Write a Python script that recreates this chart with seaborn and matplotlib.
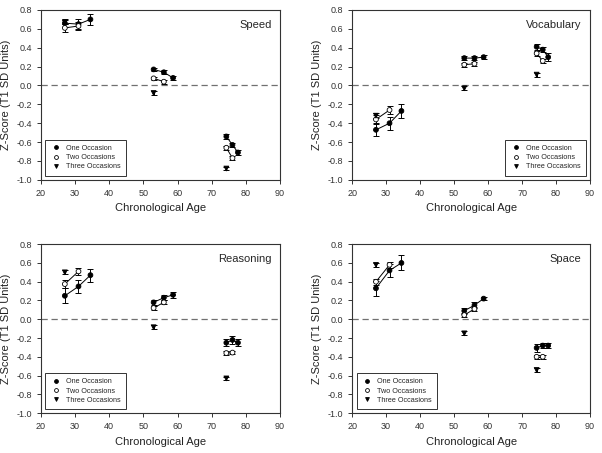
import numpy as np
import pandas as pd
import seaborn as sns
from matplotlib import pyplot as plt

# ages of the cohorts (young / middle / old) for each number of occasions
age_one = [27.0, 31.0, 34.5, 53.0, 56.0, 58.7, 74.3, 76.1, 77.7]
age_two = [27.0, 31.0, 53.0, 56.0, 74.3, 76.1]
age_three = [27.0, 53.0, 74.3]
cohort_one = ["y", "y", "y", "m", "m", "m", "o", "o", "o"]
cohort_two = ["y", "y", "m", "m", "o", "o"]
cohort_three = ["y", "m", "o"]

panels = ["Speed", "Vocabulary", "Reasoning", "Space"]

speed_one = [0.66, 0.65, 0.70, 0.17, 0.14, 0.08, -0.54, -0.63, -0.71]
speed_two = [0.61, 0.63, 0.075, 0.04, -0.66, -0.77]
speed_three = [0.67, -0.08, -0.88]
speed_se_one = [0.04, 0.05, 0.06, 0.02, 0.02, 0.02, 0.03, 0.02, 0.03]
speed_se_two = [0.04, 0.04, 0.02, 0.02, 0.02, 0.02]
speed_se_three = [0.02, 0.02, 0.02]

vocab_one = [-0.47, -0.40, -0.27, 0.29, 0.29, 0.30, 0.41, 0.38, 0.30]
vocab_two = [-0.36, -0.26, 0.22, 0.23, 0.34, 0.26]
vocab_three = [-0.32, -0.03, 0.115]
vocab_se_one = [0.07, 0.07, 0.07, 0.02, 0.02, 0.02, 0.03, 0.03, 0.04]
vocab_se_two = [0.05, 0.04, 0.02, 0.02, 0.03, 0.02]
vocab_se_three = [0.03, 0.02, 0.02]

reason_one = [0.25, 0.35, 0.47, 0.18, 0.23, 0.26, -0.25, -0.22, -0.25]
reason_two = [0.375, 0.51, 0.12, 0.18, -0.36, -0.355]
reason_three = [0.50, -0.085, -0.63]
reason_se_one = [0.08, 0.07, 0.07, 0.03, 0.03, 0.03, 0.04, 0.04, 0.04]
reason_se_two = [0.04, 0.04, 0.02, 0.02, 0.02, 0.02]
reason_se_three = [0.02, 0.02, 0.02]

space_one = [0.33, 0.52, 0.60, 0.09, 0.15, 0.22, -0.305, -0.28, -0.28]
space_two = [0.40, 0.58, 0.045, 0.11, -0.40, -0.40]
space_three = [0.58, -0.15, -0.54]
space_se_one = [0.08, 0.07, 0.08, 0.03, 0.03, 0.02, 0.04, 0.03, 0.03]
space_se_two = [0.03, 0.03, 0.02, 0.02, 0.02, 0.02]
space_se_three = [0.02, 0.02, 0.02]

values = {
    "Speed": (speed_one, speed_two, speed_three, speed_se_one, speed_se_two, speed_se_three),
    "Vocabulary": (vocab_one, vocab_two, vocab_three, vocab_se_one, vocab_se_two, vocab_se_three),
    "Reasoning": (reason_one, reason_two, reason_three, reason_se_one, reason_se_two, reason_se_three),
    "Space": (space_one, space_two, space_three, space_se_one, space_se_two, space_se_three),
}

occ_names = ["One Occasion", "Two Occasions", "Three Occasions"]

rows = []
for p in panels:
    z1, z2, z3, s1, s2, s3 = values[p]
    for occ, ages, coh, zs, ses in [(occ_names[0], age_one, cohort_one, z1, s1),
                                    (occ_names[1], age_two, cohort_two, z2, s2),
                                    (occ_names[2], age_three, cohort_three, z3, s3)]:
        for a, c, z, s in zip(ages, coh, zs, ses):
            rows.append({"panel": p, "occasion": occ, "grp": occ + c, "age": a, "z": z, "se": s})
df = pd.DataFrame(rows)

sns.set_style("ticks")
plt.rcParams["font.family"] = ["Liberation Sans", "DejaVu Sans"]

fig = plt.figure(figsize=(6.02, 4.53), dpi=100)
boxes = [
    [0.068, 0.603, 0.397, 0.375],
    [0.585, 0.603, 0.395, 0.375],
    [0.068, 0.088, 0.397, 0.373],
    [0.585, 0.088, 0.395, 0.373],
]
legend_loc = {"Speed": "lower left", "Vocabulary": "lower right",
              "Reasoning": "lower left", "Space": "lower left"}
yticks = np.round(np.arange(-1.0, 0.81, 0.2), 1)

for p, box in zip(panels, boxes):
    ax = fig.add_axes(box)
    d = df[df.panel == p]
    ax.axhline(0, color="#707070", ls=(0, (5, 3)), lw=0.9, zorder=1)
    lines = d[d.occasion != occ_names[2]]
    sns.lineplot(data=lines, x="age", y="z", units="grp", estimator=None,
                 color="black", lw=0.7, ax=ax, legend=False, zorder=2)
    ax.errorbar(d.age, d.z, yerr=d.se, fmt="none", ecolor="black",
                elinewidth=0.7, capsize=2.2, capthick=0.7, zorder=3)
    sns.scatterplot(data=d, x="age", y="z", hue="occasion", style="occasion",
                    hue_order=occ_names, style_order=occ_names,
                    palette={occ_names[0]: "black", occ_names[1]: "white", occ_names[2]: "black"},
                    markers={occ_names[0]: "o", occ_names[1]: "o", occ_names[2]: "v"},
                    edgecolor="black", linewidth=0.6, s=12, ax=ax, zorder=4)
    ax.set_xlim(20, 90)
    ax.set_ylim(-1.0, 0.8)
    ax.set_xticks(np.arange(20, 91, 10))
    ax.set_yticks(yticks)
    ax.set_yticklabels([f"{v:.1f}" if v != 0 else "0.0" for v in yticks])
    ax.tick_params(labelsize=6.5, length=3, width=0.7, colors="#333333")
    for sp in ax.spines.values():
        sp.set_linewidth(0.8)
        sp.set_color("#333333")
    ax.set_xlabel("Chronological Age", fontsize=8, color="#222222")
    ax.set_ylabel("Z-Score (T1 SD Units)", fontsize=8, color="#222222")
    ax.text(0.965, 0.91, p, transform=ax.transAxes, ha="right", va="center", fontsize=8)
    leg = ax.legend(loc=legend_loc[p], fontsize=5.2, frameon=True, fancybox=False,
                    handletextpad=0.6, borderpad=0.7, labelspacing=0.3,
                    markerscale=0.8, borderaxespad=0.6, handlelength=1.6)
    leg.get_frame().set_edgecolor("black")
    leg.get_frame().set_linewidth(0.7)

fig.savefig("out.png", dpi=100)
